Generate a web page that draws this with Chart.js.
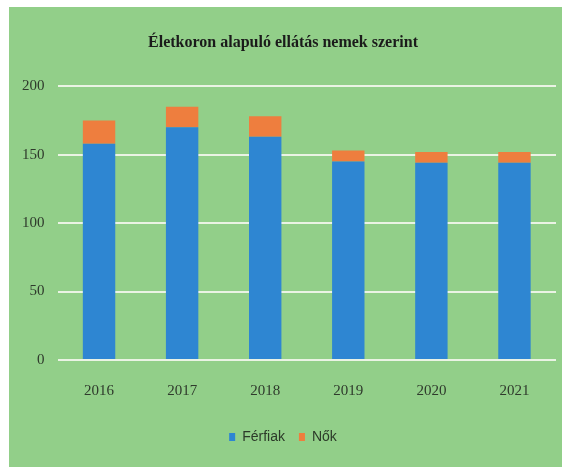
<!DOCTYPE html>
<html>
<head>
<meta charset="utf-8">
<script src="https://cdn.jsdelivr.net/npm/chart.js@4"></script>
<style>
  html, body { margin:0; padding:0; background:#fff; }
  #wrap { position:relative; width:567px; height:471px; }
  #panel { position:absolute; left:9px; top:7px; width:553px; height:460px; background:#92cf89; }
  canvas { position:absolute; left:0; top:0; }
</style>
</head>
<body>
<div id="wrap">
  <div id="panel"></div>
  <canvas id="chart" width="567" height="471"></canvas>
</div>
<script>
/* ---- data ---- */
const years   = ['2016', '2017', '2018', '2019', '2020', '2021'];
const ferfiak = [158, 170, 163, 145, 144, 144];
const nok     = [17, 15, 15, 8, 8, 8];
const yTicks  = [0, 50, 100, 150, 200];

const TITLE = 'Életkoron alapuló ellátás nemek szerint';
const SERIF = "'Liberation Serif', 'DejaVu Serif', serif";
const SANS  = "'Liberation Sans Narrow', 'Liberation Sans', Arial, sans-serif";

new Chart(document.getElementById('chart'), {
  type: 'bar',
  data: {
    labels: years,
    datasets: [
      { label:'Férfiak', data: ferfiak, backgroundColor:'#2e86d2', borderWidth:0,
        categoryPercentage:1, barPercentage:0.39 },
      { label:'Nők',     data: nok,     backgroundColor:'#ee7e3e', borderWidth:0,
        categoryPercentage:1, barPercentage:0.39 },
    ],
  },
  options: {
    responsive:false, animation:false,
    layout:{ padding:{ left:10, right:11, top:0, bottom:17 } },
    plugins:{
      title:{ display:true, text:TITLE, color:'#1b1b1b',
        font:{ family:SERIF, size:16, weight:'bold' }, padding:{ top:33, bottom:34 } },
      legend:{ position:'bottom',
        labels:{ color:'#2c3a29', font:{ family:SANS, size:14 }, boxWidth:6, boxHeight:8, padding:14 } },
      tooltip:{ enabled:false },
    },
    scales:{
      x:{ stacked:true,
        grid:{ display:false }, border:{ display:false },
        ticks:{ color:'#2f3a2c', font:{ family:SERIF, size:15 }, padding:14 },
        afterFit: s => { s.height = 56; } },
      y:{ stacked:true, min:0, max:200,
        grid:{ color:'#eaf3e4', lineWidth:2, drawTicks:false }, border:{ display:false },
        afterBuildTicks: s => { s.ticks = yTicks.map(v => ({ value:v })); },
        ticks:{ color:'#2f3a2c', font:{ family:SERIF, size:15 }, padding:13 },
        afterFit: s => { s.width = 47.5; } },
    },
  },
});
</script>
</body>
</html>
